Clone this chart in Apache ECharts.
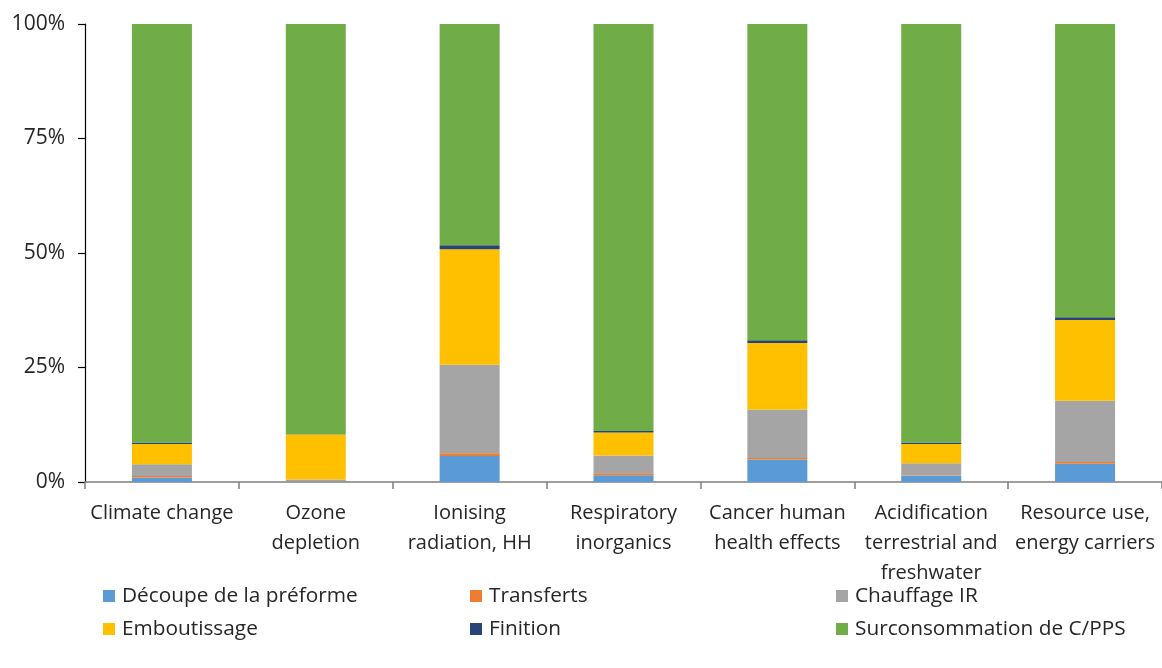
<!DOCTYPE html>
<html>
<head>
<meta charset="utf-8">
<script src="https://cdn.jsdelivr.net/npm/echarts@6/dist/echarts.min.js"></script>
<style>
  html, body { margin: 0; padding: 0; background: #fff; }
  #chart { width: 1162px; height: 668px; }
</style>
</head>
<body>
<div id="chart"></div>
<script>
// Impact categories (x axis)
const categories = [
  'Climate change',
  'Ozone\ndepletion',
  'Ionising\nradiation, HH',
  'Respiratory\ninorganics',
  'Cancer human\nhealth effects',
  'Acidification\nterrestrial and\nfreshwater',
  'Resource use,\nenergy carriers'
];

// Share of each process step, in % of the total impact
const decoupe        = [1.0, 0.1, 5.7, 1.5, 4.9, 1.3, 4.0];
const transferts     = [0.3, 0.05, 0.6, 0.4, 0.35, 0.1, 0.35];
const chauffage      = [2.6, 0.4, 19.3, 3.9, 10.6, 2.7, 13.4];
const emboutissage   = [4.4, 9.8, 25.2, 5.0, 14.5, 4.2, 17.6];
const finition       = [0.3, 0.05, 0.9, 0.35, 0.6, 0.3, 0.6];
const surconsommation = categories.map((_, i) =>
  +(100 - decoupe[i] - transferts[i] - chauffage[i] - emboutissage[i] - finition[i]).toFixed(2));

const yTicks = [0, 25, 50, 75, 100];

const seriesDefs = [
  { name: 'Découpe de la préforme', data: decoupe, color: '#5B9BD5' },
  { name: 'Transferts', data: transferts, color: '#ED7D31' },
  { name: 'Chauffage IR', data: chauffage, color: '#A5A5A5' },
  { name: 'Emboutissage', data: emboutissage, color: '#FFC000' },
  { name: 'Finition', data: finition, color: '#264478' },
  { name: 'Surconsommation de C/PPS', data: surconsommation, color: '#70AD47' }
];

// Legend placement: two rows, three columns
const legendPos = [
  { left: 98, top: 579 }, { left: 465, top: 579 }, { left: 831, top: 579 },
  { left: 98, top: 612 }, { left: 465, top: 612 }, { left: 831, top: 612 }
];

const font = '"Open Sans", "Noto Sans", sans-serif';

const chart = echarts.init(document.getElementById('chart'), null, { renderer: 'canvas' });

chart.setOption({
  animation: false,
  backgroundColor: '#ffffff',
  grid: { left: 85, right: 0, top: 24, bottom: 186, containLabel: false },
  legend: seriesDefs.map((s, i) => ({
    data: [s.name],
    left: legendPos[i].left,
    top: legendPos[i].top,
    itemWidth: 12,
    itemHeight: 12,
    itemGap: 0,
    icon: 'rect',
    selectedMode: false,
    textStyle: { fontFamily: font, fontSize: 20.8, lineHeight: 24, color: '#262626', padding: [0, 0, 0, 2] }
  })),
  xAxis: {
    type: 'category',
    data: categories,
    axisLine: { lineStyle: { color: '#7f7f7f', width: 1.5 } },
    axisTick: { show: true, alignWithLabel: false, length: 7, lineStyle: { color: '#7f7f7f', width: 1.5 } },
    axisLabel: {
      interval: 0,
      margin: 16,
      fontFamily: font,
      fontSize: 20,
      lineHeight: 30,
      color: '#262626',
      align: 'center'
    }
  },
  yAxis: {
    type: 'value',
    min: 0,
    max: 100,
    interval: 25,
    axisLine: { show: true, lineStyle: { color: '#000000', width: 1.2 } },
    axisTick: { show: true, inside: false, length: 7, lineStyle: { color: '#000000', width: 1.2 } },
    splitLine: { show: false },
    axisLabel: {
      margin: 20,
      fontFamily: font,
      fontSize: 21,
      color: '#262626',
      formatter: v => (yTicks.includes(v) ? v + '%' : '')
    }
  },
  series: seriesDefs.map(s => ({
    name: s.name,
    type: 'bar',
    stack: 'total',
    barWidth: 60,
    data: s.data,
    itemStyle: { color: s.color }
  }))
});
</script>
</body>
</html>
